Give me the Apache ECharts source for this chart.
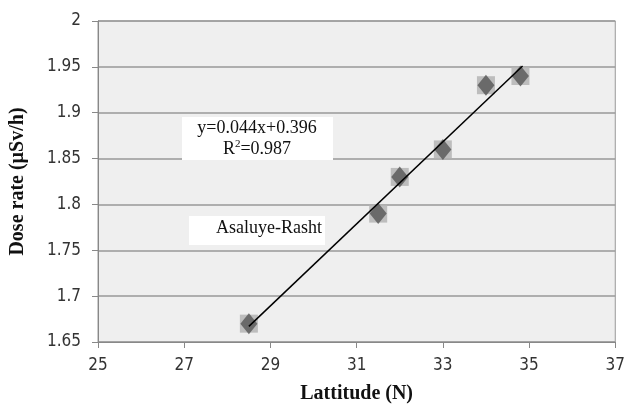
<!DOCTYPE html>
<html><head><meta charset="utf-8">
<script src="https://cdn.jsdelivr.net/npm/echarts@6/dist/echarts.min.js"></script>
<style>html,body{margin:0;padding:0;background:#fff}#c{width:628px;height:409px}</style>
</head><body><div id="c"></div>
<script>
const latitude = [28.5, 31.5, 32, 33, 34, 34.8];
const doseRate = [1.67, 1.79, 1.83, 1.86, 1.93, 1.94];
const trendX = [28.5, 34.85];
const trendY = [1.667, 1.951];
const xTicks = [25, 27, 29, 31, 33, 35, 37];
const yTicks = [1.65, 1.7, 1.75, 1.8, 1.85, 1.9, 1.95, 2];

const pts = latitude.map((x, i) => [x, doseRate[i]]);
const trend = trendX.map((x, i) => [x, trendY[i]]);
const labFont = '"Liberation Sans Narrow", "DejaVu Sans Condensed", sans-serif';
const serif = '"Liberation Serif", "DejaVu Serif", serif';

const chart = echarts.init(document.getElementById('c'), null, {renderer: 'canvas'});
chart.setOption({
  backgroundColor: '#fff',
  animation: false,
  grid: {left: 93, right: 7, top: 21, bottom: 60, show: true, backgroundColor: '#efefef', borderColor: '#999', borderWidth: 1},
  xAxis: {
    type: 'value', min: 25, max: 37, interval: 2,
    name: 'Lattitude (N)', nameLocation: 'middle', nameGap: 42,
    nameTextStyle: {fontFamily: serif, fontWeight: 'bold', fontSize: 20, color: '#111'},
    axisLine: {show: true, lineStyle: {color: '#888', width: 1}},
    axisTick: {show: true, length: 6, lineStyle: {color: '#888'}},
    axisLabel: {fontFamily: labFont, fontSize: 17, color: '#333', margin: 15},
    splitLine: {show: false}
  },
  yAxis: {
    type: 'value', min: 1.65, max: 2, interval: 0.05,
    name: 'Dose rate (µSv/h)', nameLocation: 'middle', nameGap: 70,
    nameTextStyle: {fontFamily: serif, fontWeight: 'bold', fontSize: 20, color: '#111'},
    axisLine: {show: true, lineStyle: {color: '#888', width: 1}},
    axisTick: {show: true, length: 6, lineStyle: {color: '#888'}},
    axisLabel: {fontFamily: labFont, fontSize: 17, color: '#333', margin: 17,
      formatter: v => String(parseFloat(v.toFixed(2)))},
    splitLine: {show: true, lineStyle: {color: '#999', width: 1.5}}
  },
  series: [
    {type: 'scatter', data: pts, symbol: 'rect', symbolSize: 18,
     itemStyle: {color: '#b4b4b4', opacity: 0.85}, z: 2},
    {type: 'scatter', data: pts, symbol: 'diamond', symbolSize: [17, 21],
     itemStyle: {color: '#555'}, z: 3},
    {type: 'line', data: trend, symbol: 'none', lineStyle: {color: '#000', width: 1.5}, z: 4}
  ],
  graphic: [
    {type: 'rect', left: 182, top: 117, shape: {width: 151, height: 43}, style: {fill: '#fff'}, z: 10},
    {type: 'text', z: 11, x: 257, y: 118, style: {
      text: 'y=0.044x+0.396\n{r|R}{s|2}{r|=0.987}', align: 'center', verticalAlign: 'top',
      font: '18px ' + serif, fill: '#111', lineHeight: 21,
      rich: {r: {fontFamily: serif, fontSize: 18, fill: '#111', lineHeight: 21}, s: {fontFamily: serif, fontSize: 11, fill: '#111', verticalAlign: 'top', lineHeight: 14}}
    }},
    {type: 'rect', left: 189, top: 216, shape: {width: 136, height: 29}, style: {fill: '#fff'}, z: 10},
    {type: 'text', z: 11, x: 216, y: 219, style: {text: 'Asaluye-Rasht', font: '18px ' + serif, fill: '#111', verticalAlign: 'top'}}
  ]
});
</script></body></html>
